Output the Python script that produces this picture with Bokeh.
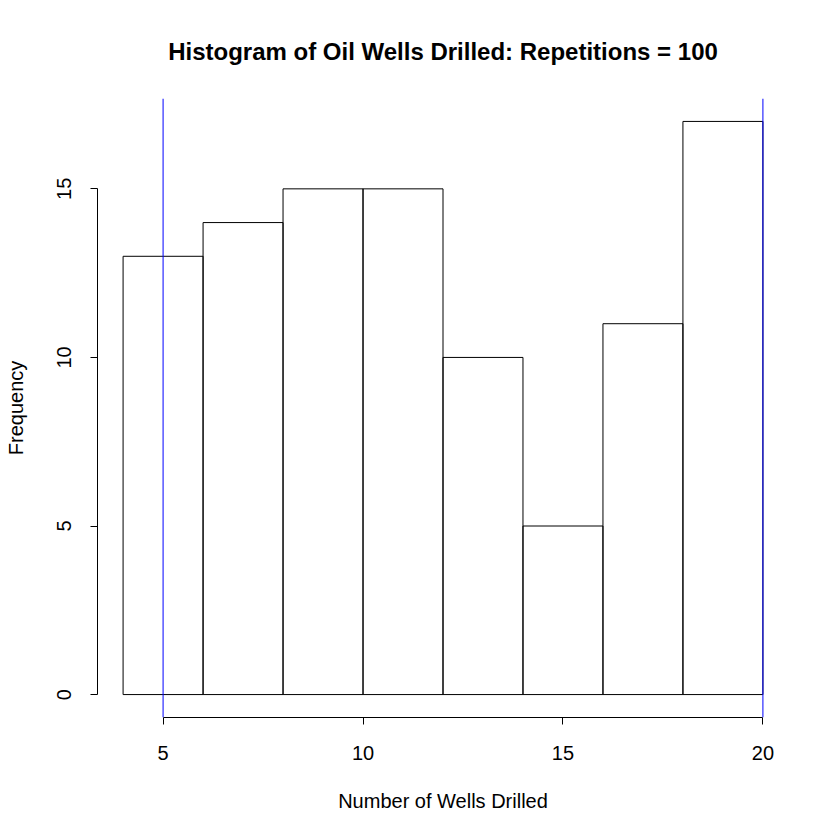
from bokeh.plotting import figure
from bokeh.models import Range1d, FixedTicker, Span
from bokeh.embed import file_html
from bokeh.resources import INLINE

bin_left = [4, 6, 8, 10, 12, 14, 16, 18]
bin_right = [6, 8, 10, 12, 14, 16, 18, 20]
counts = [13, 14, 15, 15, 10, 5, 11, 17]
x_ticks = [5, 10, 15, 20]
y_ticks = [0, 5, 10, 15]
vlines = [5, 20]

FONT = "Liberation Sans"

p = figure(frame_width=691, frame_height=619, output_backend="svg", toolbar_location=None,
           x_range=Range1d(3.36, 20.64), y_range=Range1d(-0.68, 17.68),
           min_border_left=97, min_border_top=98, min_border_right=36, min_border_bottom=107,
           title="Histogram of Oil Wells Drilled: Repetitions = 100")

p.quad(left=bin_left, right=bin_right, top=counts, bottom=0,
       fill_color=None, line_color="black", line_width=1)

for v in vlines:
    p.add_layout(Span(location=v, dimension="height", line_color="#0000FF", line_width=1))

p.outline_line_color = None
p.grid.visible = False
p.background_fill_color = "white"
p.border_fill_color = "white"

p.title.text_font = FONT
p.title.text_font_size = "24px"
p.title.text_font_style = "bold"
p.title.align = "center"
p.title.standoff = 68
p.title.text_color = "black"

for ax in (p.xaxis[0], p.yaxis[0]):
    ax.axis_line_color = "black"
    ax.major_tick_line_color = "black"
    ax.minor_tick_line_color = None
    ax.major_tick_out = 7
    ax.major_tick_in = 0
    ax.major_label_text_font = FONT
    ax.major_label_text_font_size = "20px"
    ax.major_label_text_color = "black"
    ax.axis_label_text_font = FONT
    ax.axis_label_text_font_size = "20px"
    ax.axis_label_text_font_style = "normal"
    ax.axis_label_text_color = "black"

xa = p.xaxis[0]
xa.ticker = FixedTicker(ticks=x_ticks)
xa.bounds = (5, 20)
xa.axis_label = "Number of Wells Drilled"
xa.major_label_standoff = 21
xa.axis_label_standoff = 27

ya = p.yaxis[0]
ya.ticker = FixedTicker(ticks=y_ticks)
ya.bounds = (0, 15)
ya.axis_label = "Frequency"
ya.major_label_orientation = "vertical"
ya.major_label_standoff = 19
ya.axis_label_standoff = 28

open("out.html", "w").write(file_html(p, INLINE))
